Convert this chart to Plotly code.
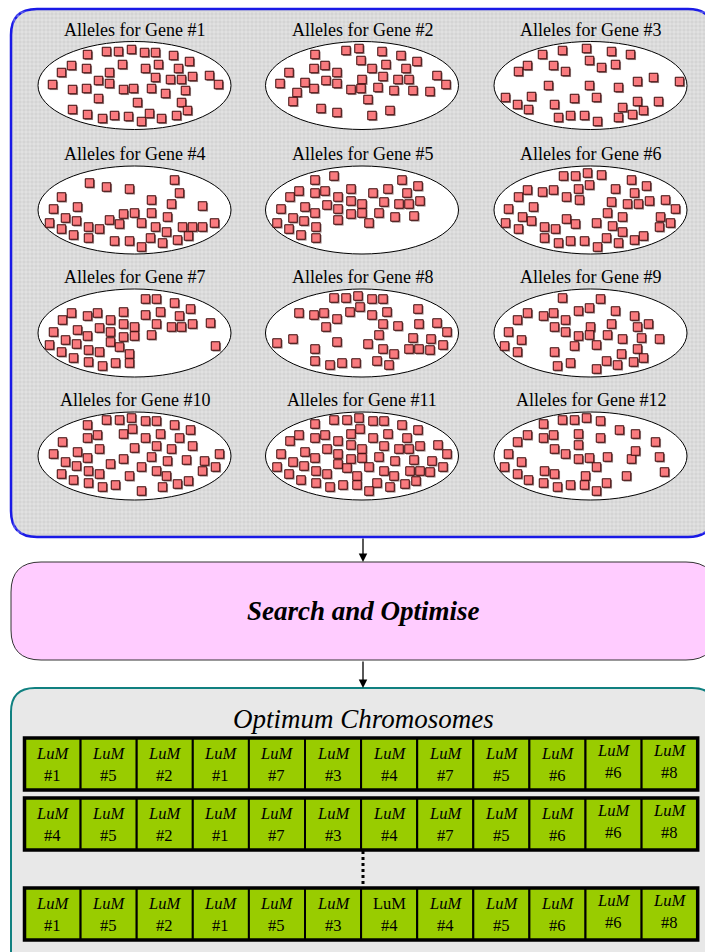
import plotly.graph_objects as go

W, H = 705, 952

# --- data -----------------------------------------------------------------
gene_labels = ["Alleles for Gene #%d" % i for i in range(1, 13)]

# allele squares, offsets in px from the centre of each gene ellipse
alleles_g1 = [(-47, -31), (-28, -34), (-16, -34), (-3, -36), (10, -33), (21, -33), (39, -30), (55, -24),
              (-63, -20), (-73, -13), (-48, -17), (-25, -13), (-12, -21), (11, -17), (24, -21), (44, -17),
              (-82, -1), (-36, -5), (-25, -2), (21, -8), (36, -6), (47, -6), (58, -9), (75, -10), (84, -1),
              (-62, 4), (-48, 3), (-11, 4), (-1, 3), (17, 3), (31, 8), (51, 5), (-36, 13), (3, 17), (47, 17),
              (-62, 24), (-47, 29), (-32, 33), (-20, 30), (-6, 31), (7, 36), (15, 28), (27, 33), (42, 30),
              (53, 25)]
alleles_g2 = [(-47, -31), (-16, -35), (-3, -37), (20, -34), (39, -30), (55, -24), (-1, -25), (24, -21),
              (10, -17), (-48, -17), (-37, -20), (-25, -13), (44, -17), (-73, -13), (-82, -2), (-57, -3),
              (-36, -5), (-25, -2), (0, -6), (21, -9), (36, -6), (47, -6), (75, -10), (84, -1), (-65, 7),
              (-48, 3), (-11, 4), (-1, 3), (16, 2), (32, 5), (51, 5), (68, 6), (-69, 16), (6, 14), (-41, 23),
              (-25, 27), (10, 30), (28, 25)]
alleles_g3 = [(-48, -31), (-28, -35), (-4, -37), (21, -34), (40, -31), (-1, -25), (25, -21), (11, -18),
              (-37, -20), (-63, -20), (-72, -14), (-25, -14), (-42, 0), (-1, 0), (28, 2), (47, -4), (63, -8),
              (89, -4), (-85, 12), (-59, 11), (-73, 19), (-62, 24), (-36, 19), (-16, 13), (6, 12), (47, 16),
              (68, 16), (32, 22), (53, 25), (-32, 32), (-20, 30), (-6, 30), (7, 36), (28, 32), (42, 29)]
alleles_g4 = [(-45, -27), (-28, -23), (-5, -21), (40, -30), (45, -17), (17, -10), (37, -6), (68, -4),
              (-73, -13), (-81, -1), (-57, -3), (-69, 8), (-58, 11), (-85, 13), (-25, 10), (-15, 14),
              (-11, 4), (0, 3), (7, 13), (17, 3), (33, 7), (21, 17), (-73, 19), (-61, 25), (-46, 17),
              (-35, 19), (-46, 28), (-20, 31), (-5, 31), (7, 37), (16, 28), (28, 33), (32, 22), (43, 30),
              (54, 26), (48, 17), (58, 17), (68, 17), (80, 13)]
alleles_g5 = [(-47, -30), (-28, -34), (40, -30), (56, -24), (45, -17), (-63, -19), (-72, -13), (-47, -17),
              (-37, -19), (-24, -13), (-11, -21), (-11, -9), (11, -17), (26, -21), (22, -8), (-81, -1),
              (-57, -3), (-35, -5), (-24, -1), (0, -6), (37, -6), (47, -6), (58, -9), (-47, 3), (-69, 8),
              (-58, 11), (-24, 10), (-11, 4), (0, 3), (7, 13), (17, 3), (33, 7), (52, 6), (-85, 13),
              (-73, 19), (-61, 25), (-46, 17), (-46, 28)]
alleles_g6 = [(-27, -34), (-15, -34), (-3, -37), (11, -35), (41, -30), (56, -24), (-1, -25), (-12, -21),
              (-24, -13), (-11, -10), (25, -21), (44, -17), (-63, -20), (-72, -13), (-48, -18), (-37, -20),
              (-82, -1), (-57, -3), (21, -8), (37, -6), (48, -6), (59, -9), (75, -10), (85, -1), (-68, 7),
              (-59, 11), (-24, 9), (-15, 14), (6, 13), (17, 3), (32, 7), (70, 7), (22, 16), (32, 22),
              (-85, 13), (-72, 19), (-46, 17), (-35, 19), (69, 17), (80, 13), (-46, 28), (-32, 33),
              (-20, 31), (-6, 31), (7, 37), (16, 28), (28, 33), (44, 30), (53, 26)]
alleles_g7 = [(11, -34), (22, -34), (40, -30), (56, -24), (45, -17), (26, -21), (11, -18), (-63, -20),
              (-72, -13), (-47, -17), (-37, -20), (-24, -13), (-11, -21), (-11, -9), (0, -6), (22, -9),
              (37, -6), (47, -6), (58, -9), (76, -10), (-81, -1), (-57, -3), (-35, -5), (-24, -1), (0, 3),
              (17, 2), (-47, 3), (-11, 4), (-69, 7), (-58, 11), (-24, 9), (-15, 14), (-85, 12), (81, 13),
              (-73, 19), (-61, 25), (-46, 17), (-35, 19), (-5, 21), (-5, 30), (-19, 30), (-32, 33), (-46, 29)]
alleles_g8 = [(-28, -35), (-16, -35), (-4, -37), (10, -34), (21, -34), (-2, -26), (-12, -21), (-38, -20),
              (-48, -18), (-63, -20), (-25, -14), (-36, -6), (10, -18), (25, -21), (56, -24), (21, -9),
              (36, -7), (57, -9), (75, -10), (85, -1), (17, 2), (51, 5), (69, 6), (81, 12), (-85, 10),
              (-69, 6), (-25, 9), (6, 11), (21, 16), (32, 21), (-47, 16), (47, 16), (57, 16), (68, 17),
              (-47, 28), (-32, 32), (-20, 30), (-6, 30), (15, 28), (27, 32)]
alleles_g9 = [(-28, -35), (10, -34), (-1, -25), (-12, -22), (25, -22), (44, -17), (-63, -20), (-73, -13),
              (-47, -17), (-37, -20), (-25, -13), (-36, -6), (-25, -1), (0, -6), (21, -9), (47, -6), (58, -9),
              (-82, -1), (-69, 7), (-86, 13), (-73, 19), (-12, 3), (-1, 2), (17, 2), (32, 6), (51, 5),
              (69, 6), (-16, 13), (6, 12), (-36, 19), (31, 21), (47, 16), (53, 25), (-20, 30), (-33, 33),
              (6, 36), (16, 28), (27, 32), (43, 29)]
alleles_g10 = [(-28, -36), (-15, -36), (-3, -38), (11, -35), (22, -35), (40, -31), (56, -26), (-47, -31),
               (-2, -27), (-11, -22), (-37, -21), (-47, -18), (26, -22), (11, -18), (45, -18), (-72, -14),
               (-35, -7), (0, -8), (22, -10), (37, -7), (58, -10), (-81, -2), (-57, -4), (-47, 2), (-11, 3),
               (17, 1), (33, 5), (52, 4), (70, 5), (85, -2), (-69, 6), (-58, 10), (-24, 8), (7, 11),
               (22, 15), (81, 11), (68, 15), (-73, 18), (-61, 24), (-46, 15), (-35, 18), (-5, 20), (32, 20),
               (54, 25), (-46, 27), (-32, 31), (-19, 29), (7, 35), (28, 31), (43, 28)]
alleles_g11 = [(-47, -32), (-28, -36), (-15, -36), (-3, -38), (11, -35), (22, -35), (40, -31), (56, -26),
               (-2, -27), (-11, -22), (-63, -21), (-37, -21), (-47, -18), (-72, -15), (-24, -15), (11, -18),
               (26, -22), (45, -18), (-11, -11), (0, -7), (-35, -7), (-57, -4), (-81, -2), (-24, -2),
               (22, -10), (37, -7), (47, -7), (58, -10), (76, -11), (85, -2), (-47, 2), (-11, 3), (0, 2),
               (17, 1), (-69, 6), (-58, 10), (-24, 8), (-15, 12), (7, 11), (33, 5), (52, 4), (70, 5),
               (-85, 11), (81, 11), (22, 15), (48, 15), (58, 15), (68, 16), (-46, 15), (-35, 18), (-5, 20),
               (32, 20), (-73, 18), (-61, 24), (54, 25), (-46, 27), (-32, 31), (-19, 29), (-5, 29), (15, 27),
               (28, 31), (43, 28), (7, 35)]
alleles_g12 = [(-47, -32), (-28, -36), (-16, -36), (-4, -38), (10, -35), (29, -26), (45, -22), (65, -14),
               (-63, -21), (-73, -14), (-47, -18), (-37, -21), (-12, -22), (10, -18), (-12, -11), (-36, -7),
               (-25, -2), (-82, -2), (-69, 6), (-86, 11), (-12, 3), (-1, 2), (17, 1), (41, 3), (45, -5),
               (69, 1), (6, 11), (-46, 15), (-36, 18), (-73, 18), (-62, 24), (-5, 20), (36, 20), (74, 16),
               (-47, 27), (-33, 31), (-20, 29), (-6, 29), (16, 27), (6, 35)]

alleles = [alleles_g1, alleles_g2, alleles_g3, alleles_g4, alleles_g5, alleles_g6,
           alleles_g7, alleles_g8, alleles_g9, alleles_g10, alleles_g11, alleles_g12]

# LuM number chosen for each gene position in the three optimum chromosomes
chrom_row1 = [1, 5, 2, 1, 7, 3, 4, 7, 5, 6, 6, 8]
chrom_row2 = [4, 5, 2, 1, 7, 3, 4, 7, 5, 6, 6, 8]
chrom_row3 = [1, 5, 2, 1, 5, 3, 4, 4, 5, 6, 6, 8]
chromosomes = [chrom_row1, chrom_row2, chrom_row3]

# --- layout geometry ----------------------------------------------------------
col_x = [134.5, 362, 590.5]
row_y = [85.5, 210, 333, 456]
ell_rx, ell_ry = 96.5, 44

SERIF = "Liberation Serif"

fig = go.Figure()
shapes = []
annotations = []


def rounded_rect(x0, y0, x1, y1, r):
    return ("M %f,%f L %f,%f Q %f,%f %f,%f L %f,%f Q %f,%f %f,%f "
            "L %f,%f Q %f,%f %f,%f L %f,%f Q %f,%f %f,%f Z" % (
                x0 + r, y0, x1 - r, y0, x1, y0, x1, y0 + r,
                x1, y1 - r, x1, y1, x1 - r, y1,
                x0 + r, y1, x0, y1, x0, y1 - r,
                x0, y0 + r, x0, y0, x0 + r, y0))


# top panel: gene pools
shapes.append(dict(type="path", path=rounded_rect(11, 9, 714, 537, 26),
                   fillcolor="#d4d4d4", line=dict(color="#1a1ae6", width=2.5), layer="below"))
# faint grid texture
for gx in range(14, 705, 4):
    shapes.append(dict(type="line", x0=gx, x1=gx, y0=12, y1=534,
                       line=dict(color="rgba(255,255,255,0.35)", width=1), layer="below"))
for gy in range(12, 535, 4):
    shapes.append(dict(type="line", x0=14, x1=705, y0=gy, y1=gy,
                       line=dict(color="rgba(255,255,255,0.35)", width=1), layer="below"))

sq_x, sq_y = [], []
for i, name in enumerate(gene_labels):
    cx = col_x[i % 3]
    cy = row_y[i // 3]
    shapes.append(dict(type="circle", x0=cx - ell_rx, x1=cx + ell_rx, y0=cy - ell_ry, y1=cy + ell_ry,
                       fillcolor="white", line=dict(color="black", width=1), layer="below"))
    annotations.append(dict(x=cx, y=cy - 56, text=name, showarrow=False,
                            font=dict(family=SERIF, size=18, color="black")))
    for dx, dy in alleles[i]:
        sq_x.append(cx + dx)
        sq_y.append(cy + dy)

# shadow then squares
fig.add_trace(go.Scatter(x=[v + 1.3 for v in sq_x], y=[v + 1.3 for v in sq_y], mode="markers",
                         marker=dict(symbol="square", size=8.5, color="rgba(60,20,20,0.55)", line=dict(width=0)),
                         hoverinfo="skip"))
fig.add_trace(go.Scatter(x=sq_x, y=sq_y, mode="markers",
                         marker=dict(symbol="square", size=8.5, color="#f97a7e",
                                     line=dict(color="#3a0a0a", width=1)),
                         hoverinfo="skip"))

# arrows
for y_from, y_to in [(537, 562), (660, 688)]:
    annotations.append(dict(x=363, y=y_to, ax=363, ay=y_from, xref="x", yref="y", axref="x", ayref="y",
                            showarrow=True, arrowhead=2, arrowsize=1.3, arrowwidth=1.3,
                            arrowcolor="black", text=""))

# search and optimise box
shapes.append(dict(type="path", path=rounded_rect(11, 562, 716, 660, 30),
                   fillcolor="#ffccff", line=dict(color="#333333", width=1), layer="below"))
annotations.append(dict(x=363, y=611, text="<b><i>Search and Optimise</i></b>", showarrow=False,
                        font=dict(family=SERIF, size=27, color="black")))

# bottom panel
shapes.append(dict(type="path", path=rounded_rect(11, 688, 716, 990, 24),
                   fillcolor="#e8e8e8", line=dict(color="#108080", width=2), layer="below"))
annotations.append(dict(x=363, y=719, text="<i>Optimum Chromosomes</i>", showarrow=False,
                        font=dict(family=SERIF, size=27, color="black")))

cell_w = 56.1
cell_x0 = 24.5
row_tops = [738, 798, 888]
cell_h = 52
for r, chrom in enumerate(chromosomes):
    top = row_tops[r]
    for k, lum in enumerate(chrom):
        x0 = cell_x0 + k * cell_w
        shapes.append(dict(type="rect", x0=x0, x1=x0 + cell_w, y0=top, y1=top + cell_h,
                           fillcolor="#99cc00", line=dict(color="black", width=2), layer="below"))
        lift = 3 if k >= 10 else 0
        label = "LuM" if (r == 2 and k == 6) else "<i>LuM</i>"
        annotations.append(dict(x=x0 + cell_w / 2, y=top + 15 - lift, text=label, showarrow=False,
                                font=dict(family=SERIF, size=16.5, color="black")))
        annotations.append(dict(x=x0 + cell_w / 2, y=top + 37 - lift, text="#%d" % lum, showarrow=False,
                                font=dict(family=SERIF, size=16.5, color="black")))
    shapes.append(dict(type="rect", x0=cell_x0, x1=cell_x0 + cell_w * len(chrom), y0=top, y1=top + cell_h,
                       line=dict(color="black", width=3.5), layer="below"))

# dotted connector between chromosome rows
shapes.append(dict(type="line", x0=363, x1=363, y0=851, y1=887,
                   line=dict(color="black", width=3, dash="dot")))

fig.update_layout(
    width=W, height=H,
    margin=dict(l=0, r=0, t=0, b=0),
    paper_bgcolor="white", plot_bgcolor="white",
    showlegend=False,
    shapes=shapes, annotations=annotations,
    xaxis=dict(range=[0, W], visible=False, fixedrange=True),
    yaxis=dict(range=[H, 0], visible=False, fixedrange=True),
)

fig.write_html("out.html", config={"displayModeBar": False},
               post_script="document.body.style.margin='0';document.body.style.overflow='hidden';")
